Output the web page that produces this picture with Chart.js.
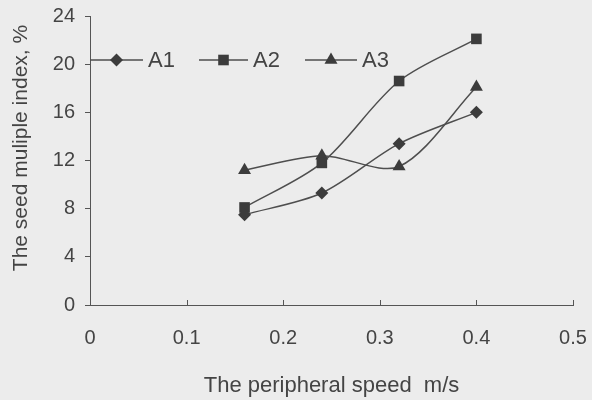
<!DOCTYPE html>
<html lang="en">
<head>
  <meta charset="UTF-8">
  <title>Seed multiple index</title>
  <script src="https://cdn.jsdelivr.net/npm/chart.js"></script>
  <style>
    html, body { margin: 0; padding: 0; background: #ececec; }
    canvas { display: block; }
  </style>
</head>
<body>
  <canvas id="chart" width="592" height="400"></canvas>

  <script>
    // data
    const speeds = [0.16, 0.24, 0.32, 0.40];
    const seriesNames = ['A1', 'A2', 'A3'];
    const a1 = [7.5, 9.3, 13.4, 16.0];
    const a2 = [8.1, 11.8, 18.6, 22.1];
    const a3 = [11.2, 12.4, 11.5, 18.1];
    const xTicks = [0, 0.1, 0.2, 0.3, 0.4, 0.5];
    const yTicks = [0, 4, 8, 12, 16, 20, 24];

    const ink = '#3c3c3c';
    const lineInk = '#4e4e4e';
    const font = 'Liberation Sans, Arial, sans-serif';
    const styles = ['rectRot', 'rect', 'triangle'];
    const radii = [6.5, 7.5, 7.5];

    function points(values) {
      return speeds.map((s, i) => ({ x: s, y: values[i] }));
    }

    function marker(ctx, style, x, y, r) {
      ctx.beginPath();
      if (style === 'rectRot') {
        ctx.moveTo(x, y - r); ctx.lineTo(x + r, y); ctx.lineTo(x, y + r); ctx.lineTo(x - r, y);
      } else if (style === 'rect') {
        const h = r * Math.SQRT1_2;
        ctx.rect(x - h, y - h, 2 * h, 2 * h);
      } else {
        ctx.moveTo(x, y - r);
        ctx.lineTo(x + r * 0.866, y + r * 0.5);
        ctx.lineTo(x - r * 0.866, y + r * 0.5);
      }
      ctx.closePath();
      ctx.fill();
    }

    const decor = {
      id: 'decor',
      beforeDraw(chart) {
        const ctx = chart.ctx;
        ctx.save();
        ctx.fillStyle = '#ececec';
        ctx.fillRect(0, 0, chart.width, chart.height);
        ctx.restore();
      },
      afterDraw(chart) {
        const ctx = chart.ctx;
        const xs = chart.scales.x, ys = chart.scales.y;
        ctx.save();
        // inward x ticks
        ctx.strokeStyle = '#555';
        ctx.lineWidth = 1;
        xTicks.forEach(v => {
          const px = Math.round(xs.getPixelForValue(v)) + 0.5;
          ctx.beginPath();
          ctx.moveTo(px, ys.bottom);
          ctx.lineTo(px, ys.bottom - 5);
          ctx.stroke();
        });
        // y title
        ctx.fillStyle = '#444';
        ctx.font = '21px ' + font;
        ctx.textAlign = 'center';
        ctx.textBaseline = 'middle';
        ctx.translate(21, 148);
        ctx.rotate(-Math.PI / 2);
        ctx.fillText('The seed muliple index, %', 0, 0);
        ctx.restore();

        // legend inside plot
        ctx.save();
        const items = [[90, 143], [199, 248], [305, 357]];
        const ly = 60;
        ctx.font = '22px ' + font;
        ctx.textBaseline = 'middle';
        ctx.textAlign = 'left';
        items.forEach((it, i) => {
          ctx.strokeStyle = lineInk;
          ctx.lineWidth = 1.5;
          ctx.beginPath();
          ctx.moveTo(it[0], ly);
          ctx.lineTo(it[1], ly);
          ctx.stroke();
          ctx.fillStyle = ink;
          marker(ctx, styles[i], (it[0] + it[1]) / 2, ly, radii[i]);
          ctx.fillStyle = '#444';
          ctx.fillText(seriesNames[i], it[1] + 5, ly + 1);
        });
        ctx.restore();
      }
    };

    const allSeries = [a1, a2, a3];

    new Chart(document.getElementById('chart'), {
      type: 'line',
      data: {
        datasets: allSeries.map((vals, i) => ({
          label: seriesNames[i],
          data: points(vals),
          borderColor: lineInk,
          borderWidth: 1.5,
          backgroundColor: ink,
          pointStyle: styles[i],
          pointRadius: radii[i],
          pointBorderWidth: 0,
          pointBackgroundColor: ink,
          tension: 0.3,
          fill: false
        }))
      },
      options: {
        responsive: false,
        animation: false,
        layout: { padding: { left: 0, right: 19, top: 16, bottom: 0 } },
        plugins: { legend: { display: false }, tooltip: { enabled: false } },
        scales: {
          x: {
            type: 'linear',
            min: 0, max: 0.5,
            afterBuildTicks: s => { s.ticks = xTicks.map(v => ({ value: v })); },
            afterFit: s => { s.height = 95; s.paddingLeft = 0; s.paddingRight = 0; },
            grid: { display: true, drawOnChartArea: false, drawTicks: false },
            border: { color: '#555', width: 1 },
            ticks: {
              color: '#444',
              font: { family: font, size: 20 },
              padding: 21,
              maxRotation: 0,
              callback: v => v === 0 ? '0' : v.toFixed(1)
            },
            title: {
              display: true,
              text: 'The peripheral speed  m/s',
              color: '#444',
              font: { family: font, size: 22 },
              padding: { top: 0, bottom: 1 }
            }
          },
          y: {
            min: 0, max: 24,
            afterBuildTicks: s => { s.ticks = yTicks.map(v => ({ value: v })); },
            afterFit: s => { s.width = 90; s.paddingTop = 0; s.paddingBottom = 0; },
            grid: { drawOnChartArea: false, tickLength: 5, color: '#555' },
            border: { color: '#555', width: 1 },
            ticks: {
              color: '#444',
              font: { family: font, size: 20 },
              padding: 10
            }
          }
        }
      },
      plugins: [decor]
    });
  </script>
</body>
</html>
